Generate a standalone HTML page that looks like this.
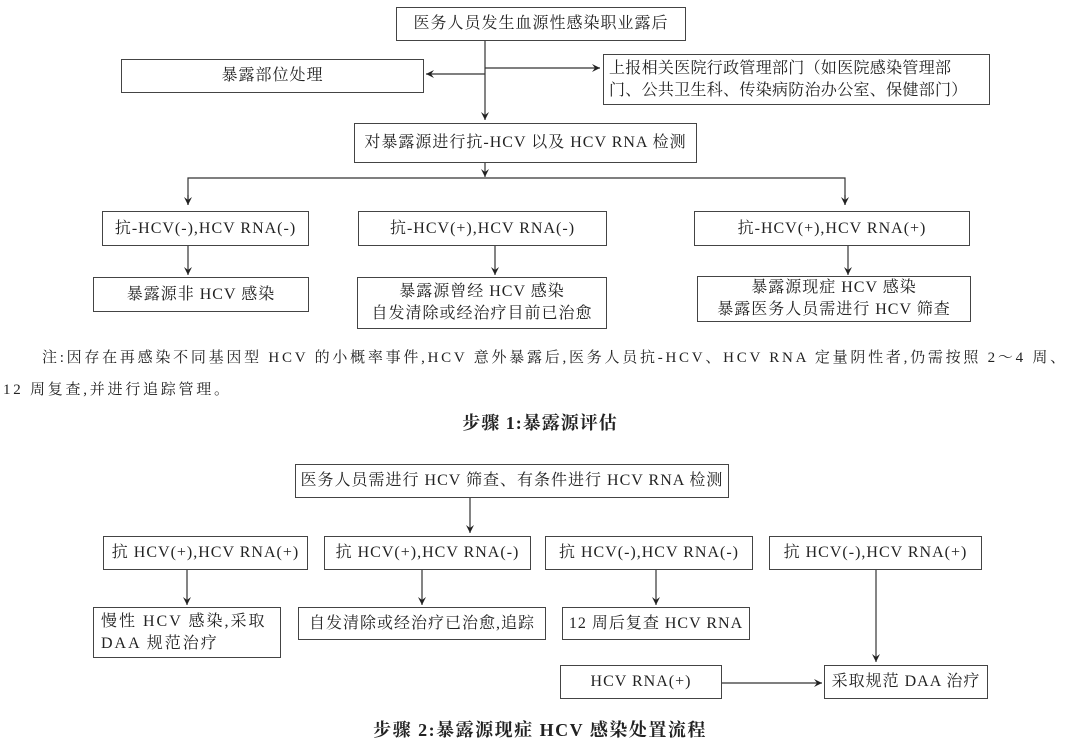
<!DOCTYPE html>
<html><head><meta charset="utf-8"><style>
body{margin:0;width:1080px;height:743px;background:#fff;position:relative;overflow:hidden;font-family:"Liberation Serif","Noto Serif CJK SC",serif;color:#222;}
.b{position:absolute;border:1.3px solid #444;box-sizing:border-box;display:flex;align-items:center;justify-content:center;text-align:center;font-size:16px;letter-spacing:1px;line-height:22px;white-space:nowrap;background:#fff;}
.t{position:absolute;font-size:15px;white-space:nowrap;}
svg{position:absolute;left:0;top:0;}
</style></head><body>
<svg width="1080" height="743">
<defs><marker id="a" markerWidth="10" markerHeight="10" refX="9" refY="5" orient="auto" markerUnits="userSpaceOnUse"><path d="M1,1 L9,5 L1,9 L4,5 Z" fill="#222"/></marker></defs>
<g stroke="#333" stroke-width="1.2" fill="none">
<line x1="485" y1="41" x2="485" y2="120" marker-end="url(#a)"/>
<line x1="485" y1="74" x2="426" y2="74" marker-end="url(#a)"/>
<line x1="485" y1="68" x2="600" y2="68" marker-end="url(#a)"/>
<line x1="485" y1="163" x2="485" y2="177" marker-end="url(#a)"/>
<polyline points="188,205 188,178 845,178 845,205"/>
<line x1="188" y1="195" x2="188" y2="205" marker-end="url(#a)"/>
<line x1="845" y1="195" x2="845" y2="205" marker-end="url(#a)"/>
<line x1="188" y1="246" x2="188" y2="275" marker-end="url(#a)"/>
<line x1="495" y1="246" x2="495" y2="275" marker-end="url(#a)"/>
<line x1="848" y1="246" x2="848" y2="275" marker-end="url(#a)"/>
<line x1="470" y1="498" x2="470" y2="533" marker-end="url(#a)"/>
<line x1="187" y1="570" x2="187" y2="605" marker-end="url(#a)"/>
<line x1="422" y1="570" x2="422" y2="605" marker-end="url(#a)"/>
<line x1="656" y1="570" x2="656" y2="605" marker-end="url(#a)"/>
<line x1="876" y1="570" x2="876" y2="662" marker-end="url(#a)"/>
<line x1="722" y1="683" x2="822" y2="683" marker-end="url(#a)"/>
</g></svg>
<div class="b" style="left:396px;top:7px;width:290px;height:34px;">医务人员发生血源性感染职业露后</div>
<div class="b" style="left:121px;top:59px;width:303px;height:34px;">暴露部位处理</div>
<div class="b" style="left:603px;top:54px;width:387px;height:51px;text-align:left;justify-content:flex-start;padding-left:5px;letter-spacing:0.3px;">上报相关医院行政管理部门（如医院感染管理部<br>门、公共卫生科、传染病防治办公室、保健部门）</div>
<div class="b" style="left:354px;top:123px;width:343px;height:40px;">对暴露源进行抗-HCV 以及 HCV RNA 检测</div>
<div class="b" style="left:102px;top:211px;width:207px;height:35px;">抗-HCV(-),HCV RNA(-)</div>
<div class="b" style="left:358px;top:211px;width:249px;height:35px;">抗-HCV(+),HCV RNA(-)</div>
<div class="b" style="left:694px;top:211px;width:276px;height:35px;">抗-HCV(+),HCV RNA(+)</div>
<div class="b" style="left:93px;top:277px;width:216px;height:35px;">暴露源非 HCV 感染</div>
<div class="b" style="left:357px;top:277px;width:250px;height:52px;">暴露源曾经 HCV 感染<br>自发清除或经治疗目前已治愈</div>
<div class="b" style="left:697px;top:276px;width:274px;height:46px;">暴露源现症 HCV 感染<br>暴露医务人员需进行 HCV 筛查</div>
<div class="t" style="left:42px;top:346px;letter-spacing:2.75px;">注:因存在再感染不同基因型 HCV 的小概率事件,HCV 意外暴露后,医务人员抗-HCV、HCV RNA 定量阴性者,仍需按照 2～4 周、</div>
<div class="t" style="left:3px;top:378px;letter-spacing:2.75px;">12 周复查,并进行追踪管理。</div>
<div class="t" style="left:0;width:1080px;text-align:center;top:409px;font-size:18px;font-weight:bold;letter-spacing:1px;">步骤 1:暴露源评估</div>
<div class="b" style="left:295px;top:464px;width:434px;height:34px;">医务人员需进行 HCV 筛查、有条件进行 HCV RNA 检测</div>
<div class="b" style="left:103px;top:536px;width:205px;height:34px;">抗 HCV(+),HCV RNA(+)</div>
<div class="b" style="left:324px;top:536px;width:207px;height:34px;">抗 HCV(+),HCV RNA(-)</div>
<div class="b" style="left:545px;top:536px;width:208px;height:34px;">抗 HCV(-),HCV RNA(-)</div>
<div class="b" style="left:769px;top:536px;width:213px;height:34px;">抗 HCV(-),HCV RNA(+)</div>
<div class="b" style="left:93px;top:607px;width:188px;height:51px;text-align:left;justify-content:flex-start;padding-left:7px;letter-spacing:2px;">慢性 HCV 感染,采取<br>DAA 规范治疗</div>
<div class="b" style="left:298px;top:607px;width:248px;height:33px;">自发清除或经治疗已治愈,追踪</div>
<div class="b" style="left:562px;top:607px;width:188px;height:33px;">12 周后复查 HCV RNA</div>
<div class="b" style="left:560px;top:665px;width:162px;height:34px;">HCV RNA(+)</div>
<div class="b" style="left:824px;top:665px;width:164px;height:34px;">采取规范 DAA 治疗</div>
<div class="t" style="left:0;width:1080px;text-align:center;top:716px;font-size:18px;font-weight:bold;letter-spacing:1.5px;">步骤 2:暴露源现症 HCV 感染处置流程</div>
</body></html>
